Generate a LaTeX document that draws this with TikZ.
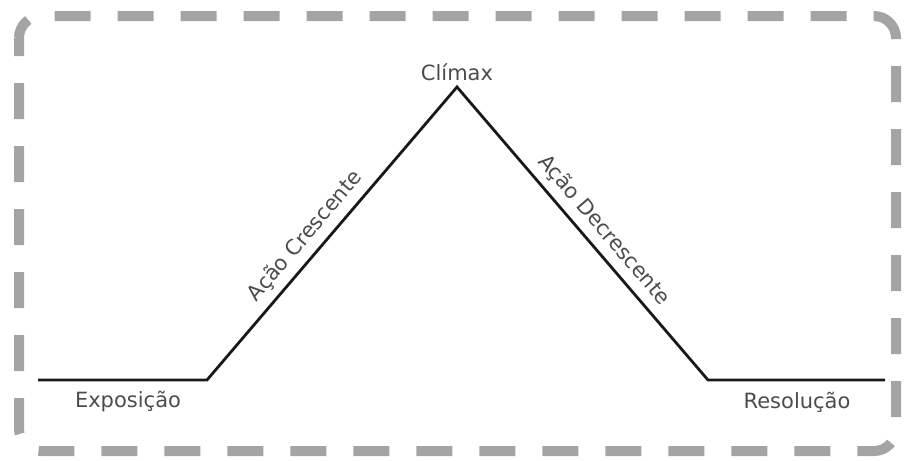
\documentclass[tikz,border=0pt]{standalone}
\usepackage{fontspec}
\setmainfont{DejaVu Sans}
\definecolor{bordergray}{HTML}{A4A4A4}
\definecolor{textgray}{HTML}{4C4C4C}
\tikzset{
  frame/.style={draw=bordergray, line width=10pt, rounded corners=22pt, dash pattern=on 36pt off 27pt, dash phase=18pt},
  arc/.style={draw=black!90, line width=2.8pt, line join=miter},
  lbl/.style={text=textgray, font=\fontsize{21}{24}\selectfont, inner sep=2pt}
}
\begin{document}
\begin{tikzpicture}[x=1pt,y=-1pt]
\useasboundingbox (0,0) rectangle (906,461);
\draw[frame] (19,16) rectangle (896,451);
\coordinate (s) at (38,380);
\coordinate (b) at (207,380);
\coordinate (p) at (457,87);
\coordinate (d) at (708,380);
\coordinate (e) at (885,380);
\draw[arc] (s) -- (b) -- node[lbl, sloped, above=5pt, pos=0.45] (up) {Ação Crescente} (p) -- node[lbl, sloped, above=5pt, pos=0.53] (down) {Ação Decrescente} (d) -- (e);
\node[lbl, above=4pt] (cl) at (p) {Clímax};
\node[lbl] (ex) at (128,402) {Exposição};
\node[lbl] (re) at (797,402) {Resolução};
\end{tikzpicture}
\end{document}
